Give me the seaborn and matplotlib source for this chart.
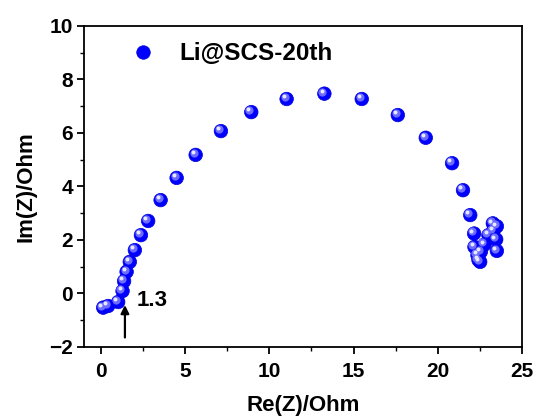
import numpy as np
import pandas as pd
import matplotlib
matplotlib.use("Agg")
import matplotlib.pyplot as plt
import matplotlib.transforms as mtransforms
from matplotlib.ticker import MultipleLocator
import seaborn as sns

re_z = [0.14, 0.43, 1.03, 1.29, 1.38, 1.53, 1.72, 2.02, 2.38, 2.81, 3.55, 4.50,
        5.63, 7.13, 8.93, 11.03, 13.27, 15.49, 17.63, 19.29, 20.85, 21.50, 21.93,
        22.16, 22.18, 22.36, 22.42, 22.52, 22.56, 22.78, 23.01, 23.27, 23.51,
        23.31, 23.47, 23.51]
im_z = [-0.53, -0.47, -0.32, 0.09, 0.46, 0.81, 1.18, 1.62, 2.18, 2.71, 3.49, 4.32,
        5.18, 6.07, 6.78, 7.27, 7.47, 7.27, 6.67, 5.82, 4.87, 3.86, 2.93,
        2.24, 1.74, 1.43, 1.25, 1.18, 1.56, 1.83, 2.18, 2.62, 2.51,
        2.34, 2.02, 1.59]
series_name = "Li@SCS-20th"
x_ticks = [0, 5, 10, 15, 20, 25]
y_ticks = [-2, 0, 2, 4, 6, 8, 10]
annot_label = "1.3"
annot_x = 1.43

df = pd.DataFrame({"Re": re_z, "Im": im_z, "series": series_name})

sns.set_style("white")
plt.rcParams["font.family"] = ["Liberation Sans", "DejaVu Sans"]
plt.rcParams["font.weight"] = "bold"
plt.rcParams["text.color"] = "black"
plt.rcParams["axes.labelcolor"] = "black"
plt.rcParams["xtick.color"] = "black"
plt.rcParams["ytick.color"] = "black"

fig = plt.figure(figsize=(5.37, 4.19), dpi=100)
ax = fig.add_axes([0.1564, 0.172, 0.8156, 0.766])

sns.scatterplot(data=df, x="Re", y="Im", hue="series", palette=["#0000ff"],
                s=95, edgecolor="#0000dd", linewidth=0.5, ax=ax, zorder=3)
# sphere highlight layers
off1 = mtransforms.offset_copy(ax.transData, fig=fig, x=-1.5, y=1.5, units="points")
off2 = mtransforms.offset_copy(ax.transData, fig=fig, x=-2.0, y=2.0, units="points")
ax.scatter(re_z, im_z, s=35, color="#6c6cff", linewidths=0, transform=off1, zorder=4)
ax.scatter(re_z, im_z, s=8, color="#e8e8ff", linewidths=0, transform=off2, zorder=5)

ax.set_xlim(-1, 25)
ax.set_ylim(-2, 10)
ax.set_xticks(x_ticks)
ax.set_yticks(y_ticks)
ax.xaxis.set_minor_locator(MultipleLocator(2.5))
ax.yaxis.set_minor_locator(MultipleLocator(1))
ax.tick_params(axis="both", which="major", direction="out", length=5, width=1.3,
               labelsize=15, bottom=True, left=True, pad=3, colors="black")
ax.tick_params(axis="x", which="major", pad=6)
ax.tick_params(axis="both", which="minor", direction="out", length=3, width=1.0,
               bottom=True, left=True, colors="black")
for lab in ax.get_xticklabels() + ax.get_yticklabels():
    lab.set_fontweight("bold")
for sp in ax.spines.values():
    sp.set_linewidth(1.3)
    sp.set_color("black")

ax.set_xlabel("Re(Z)/Ohm", fontsize=16, fontweight="bold", labelpad=10, color="black")
ax.set_ylabel("Im(Z)/Ohm", fontsize=16, fontweight="bold", labelpad=9, color="black")

ax.annotate("", xy=(annot_x, -0.33), xytext=(annot_x, -1.75),
            arrowprops=dict(arrowstyle="-|>", color="black", lw=1.6,
                            mutation_scale=12), zorder=6)
ax.text(2.1, -0.28, annot_label, fontsize=16, fontweight="bold", va="center",
        ha="left", color="black")

leg = ax.legend(loc="upper left", frameon=False, fontsize=17.5, markerscale=1.0,
                handletextpad=0.5, bbox_to_anchor=(0.045, 0.995), borderaxespad=0.2)
for t in leg.get_texts():
    t.set_fontweight("bold")
    t.set_color("black")

fig.savefig("out.png", dpi=100)
